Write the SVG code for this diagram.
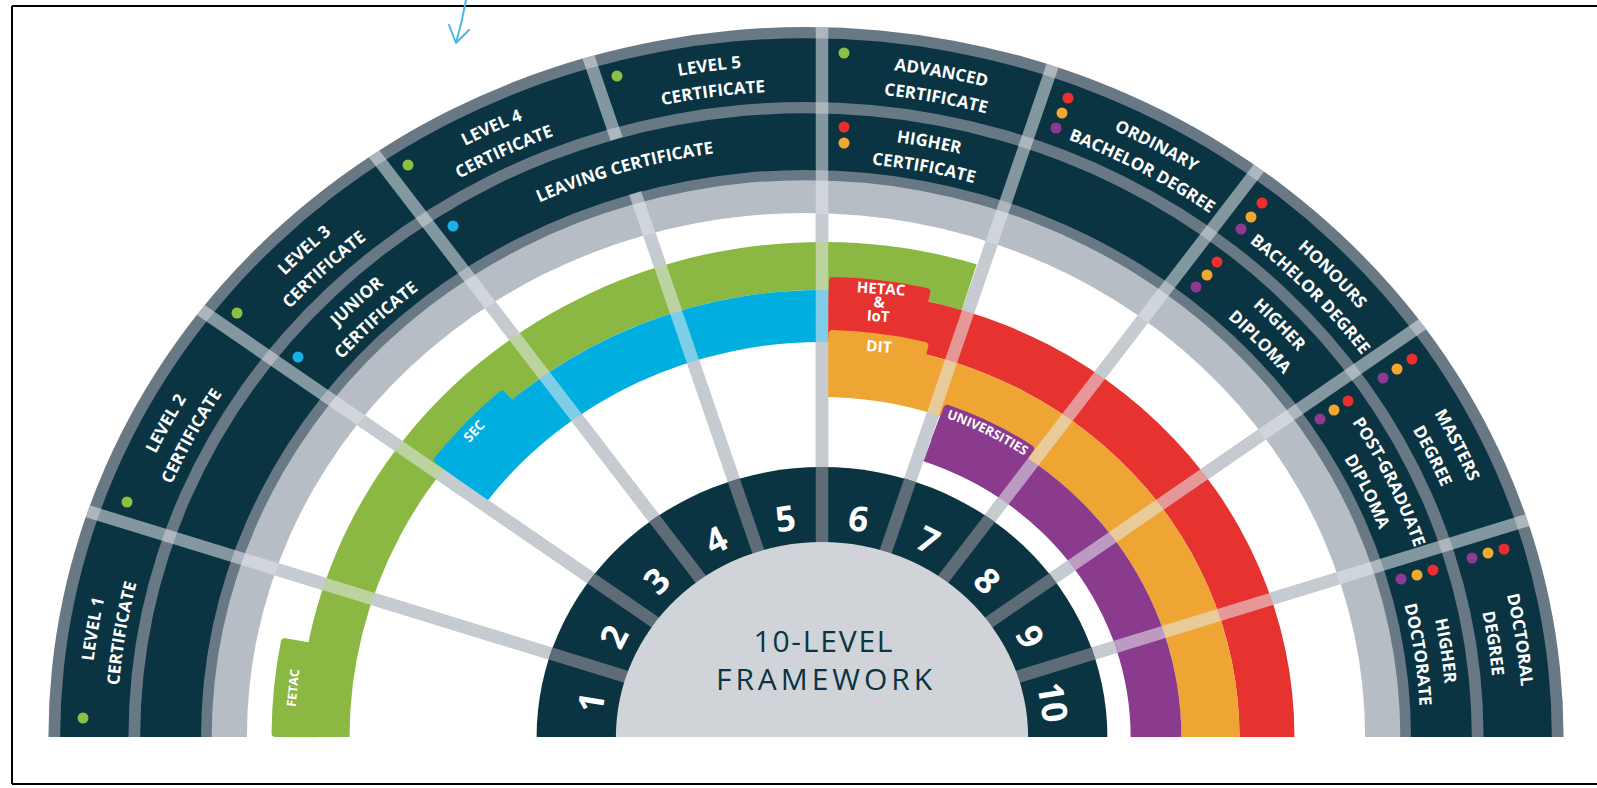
<svg xmlns="http://www.w3.org/2000/svg" width="1597" height="788" viewBox="0 0 1597 788">
<style>
.lbl{font-family:"Open Sans","Liberation Sans",sans-serif;font-weight:700;font-size:17px;fill:#fff;text-anchor:middle}
.num{font-family:"Open Sans","Liberation Sans",sans-serif;font-weight:700;font-size:35px;fill:#fff;text-anchor:middle;dominant-baseline:central}
.bt{font-family:"Open Sans","Liberation Sans",sans-serif;font-weight:700;fill:#fff;text-anchor:middle}
.ctr{font-family:"Open Sans","Liberation Sans",sans-serif;font-weight:400;font-size:30px;fill:#0a3442;text-anchor:middle}
.b1{stroke:#9ea6ae;stroke-width:12.5}
.b2{stroke:#e6e9ec;stroke-opacity:0.55;stroke-width:12.5}
.gap{stroke:#5e6c78;stroke-width:12.5}
.g{fill:#8ab843}.bl{fill:#00aee0}.r{fill:#e6332f}.o{fill:#eea534}.p{fill:#8b3b8e}
.tg{fill:#8ab843;stroke:#8ab843;stroke-width:8;stroke-linejoin:round}
.tb{fill:#00aee0;stroke:#00aee0;stroke-width:8;stroke-linejoin:round}
.tr{fill:#e6332f;stroke:#e6332f;stroke-width:8;stroke-linejoin:round}
.to{fill:#eea534;stroke:#eea534;stroke-width:8;stroke-linejoin:round}
.tp{fill:#8b3b8e;stroke:#8b3b8e;stroke-width:8;stroke-linejoin:round}
.dg{fill:#8cc043}.db{fill:#1ab0e6}.dr{fill:#ec2e2e}.do{fill:#f0a830}.dp{fill:#8e3a92}
</style>
<defs>
<clipPath id="cw"><path d="M246.89,737 A559.11,524 0 0 1 1365.11,737 Z"/></clipPath>
<clipPath id="co"><path d="M48.43,737 A757.57,710 0 0 1 1563.57,737 Z"/></clipPath>
<path id="o1" d="M88.98,737 A717.02,672 0 0 1 1523.02,737"/>
<path id="o2" d="M116.72,737 A689.28,646 0 0 1 1495.28,737"/>
<path id="i1" d="M164.73,737 A641.27,601 0 0 1 1447.27,737"/>
<path id="i2" d="M191.41,737 A614.59,576 0 0 1 1420.59,737"/>
<path id="i0" d="M176.47,737 A629.53,590 0 0 1 1435.53,737"/>
<path id="uni" d="M939.00,415.52 A359.38,340 0 0 1 1030.69,460.20"/>
</defs>
<rect width="1597" height="788" fill="#fff"/>
<g id="frame" fill="none">
<path d="M12,6 H1597 M12,6 V784 M12,784 H1597" stroke="#000" stroke-width="2"/>
<path d="M466,0 Q462,22 456,43 M449,25 L456,43 L469,30" stroke="#4db6e6" stroke-width="2" stroke-linecap="round" stroke-linejoin="round"/>
</g>
<g id="outer-rings">
<path fill="#697885" d="M48.43,737 A757.57,710 0 0 1 1563.57,737 Z"/>
<path fill="#0a3442" d="M60.17,737 A745.83,699 0 0 1 1551.83,737 Z"/>
<path fill="#697885" d="M128.45,737 A677.55,635 0 0 1 1483.55,737 Z"/>
<path fill="#0a3442" d="M140.19,737 A665.81,624 0 0 1 1471.81,737 Z"/>
<path fill="#697885" d="M201.01,737 A604.99,567 0 0 1 1410.99,737 Z"/>
<path fill="#b7bdc5" d="M211.68,737 A594.32,557 0 0 1 1400.32,737 Z"/>
<path fill="#fff" d="M246.89,737 A559.11,524 0 0 1 1365.11,737 Z"/>
</g>
<g id="connectors-base" clip-path="url(#cw)">
<line class="b1" x1="822" y1="737" x2="-82.73" y2="458.88"/>
<line class="b1" x1="822" y1="737" x2="52.38" y2="207.99"/>
<line class="b1" x1="822" y1="737" x2="262.83" y2="8.88"/>
<line class="b1" x1="822" y1="737" x2="528.03" y2="-118.95"/>
<line class="b1" x1="822" y1="737" x2="822" y2="-163"/>
<line class="b1" x1="822" y1="737" x2="1115.97" y2="-118.95"/>
<line class="b1" x1="822" y1="737" x2="1381.17" y2="8.88"/>
<line class="b1" x1="822" y1="737" x2="1591.62" y2="207.99"/>
<line class="b1" x1="822" y1="737" x2="1726.73" y2="458.88"/>
</g>
<g id="fetac">
<path class="g" d="M298.78,737 A523.22,495 0 0 1 976.72,264.14 L961.72,309.99 A472.48,447 0 0 0 349.52,737 Z"/>
<path class="tg" d="M275.55,733.03 A546.47,517 0 0 1 284.79,642.25 L323.23,649.04 A507.36,480 0 0 0 314.66,733.31 Z"/>
<text class="bt" font-size="12.5" dominant-baseline="central" x="292.9" y="687.9" transform="rotate(-84.4 292.9 687.9)">FETAC</text>
</g>
<g id="sec">
<path class="bl" d="M443.67,469.24 A472.48,447 0 0 1 828.60,290.04 L827.83,342.04 A417.52,395 0 0 0 487.68,500.39 Z"/>
<path class="tb" d="M437.92,459.85 A483.05,457 0 0 1 501.92,394.73 L525.03,419.44 A448.17,424 0 0 0 465.65,479.87 Z"/>
<text class="bt" font-size="13.5" dominant-baseline="central" x="474" y="431" transform="rotate(-47.1 474 431)">SEC</text>
</g>
<g id="hetac">
<path class="r" d="M828.60,290.04 A472.48,447 0 0 1 1294.48,737 L1239.52,737 A417.52,395 0 0 0 827.83,342.04 Z"/>
<path class="tr" d="M832.94,281.12 A481.99,456 0 0 1 926.32,291.81 L919.00,323.05 A448.17,424 0 0 0 832.17,313.11 Z"/>
<g transform="rotate(4 880 305)">
<text class="bt" font-size="15" x="880" y="294">HETAC</text>
<text class="bt" font-size="15" x="879" y="307.5">&amp;</text>
<text class="bt" font-size="15" x="879" y="321.5">IoT</text>
</g>
</g>
<g id="dit">
<path class="o" d="M828.56,342.05 A417.52,395 0 0 1 1239.52,737 L1181.38,737 A359.38,340 0 0 0 827.65,397.04 Z"/>
<path class="to" d="M832.41,334.12 A425.97,403 0 0 1 924.33,345.80 L916.46,375.89 A393.20,372 0 0 0 831.61,365.11 Z"/>
<text class="bt" font-size="15.5" x="879" y="352" transform="rotate(4 879 346)">DIT</text>
</g>
<g id="universities">
<path class="p" d="M940.19,415.91 A359.38,340 0 0 1 1181.38,737 L1130.64,737 A308.64,292 0 0 0 923.50,461.24 Z"/>
<path class="tp" d="M947.32,408.76 A368.89,349 0 0 1 1030.05,448.81 L1010.38,476.06 A334.01,316 0 0 0 935.47,439.79 Z"/>
<text class="bt" font-size="13"><textPath href="#uni" startOffset="50%">UNIVERSITIES</textPath></text>
</g>
<g id="connectors" clip-path="url(#co)">
<line class="b2" x1="822" y1="737" x2="-82.73" y2="458.88"/>
<line class="b2" x1="822" y1="737" x2="52.38" y2="207.99"/>
<line class="b2" x1="822" y1="737" x2="262.83" y2="8.88"/>
<line class="b2" x1="822" y1="737" x2="635.17" y2="192.99"/>
<line class="b2" x1="616.55" y1="138.78" x2="528.03" y2="-118.95"/>
<line class="b2" x1="822" y1="737" x2="822" y2="-163"/>
<line class="b2" x1="822" y1="737" x2="1115.97" y2="-118.95"/>
<line class="b2" x1="822" y1="737" x2="1381.17" y2="8.88"/>
<line class="b2" x1="822" y1="737" x2="1591.62" y2="207.99"/>
<line class="b2" x1="822" y1="737" x2="1726.73" y2="458.88"/>
</g>
<g id="framework">
<path fill="#0a3442" d="M536.61,737 A285.39,270 0 0 1 1107.39,737 Z"/>
<line class="gap" x1="550.58" y1="653.56" x2="631.00" y2="678.29"/>
<line class="gap" x1="591.11" y1="578.30" x2="659.52" y2="625.32"/>
<line class="gap" x1="654.25" y1="518.56" x2="703.95" y2="583.29"/>
<line class="gap" x1="733.81" y1="480.21" x2="759.94" y2="556.30"/>
<line class="gap" x1="822" y1="467" x2="822" y2="547"/>
<line class="gap" x1="910.19" y1="480.21" x2="884.06" y2="556.30"/>
<line class="gap" x1="989.75" y1="518.56" x2="940.05" y2="583.29"/>
<line class="gap" x1="1052.89" y1="578.30" x2="984.48" y2="625.32"/>
<line class="gap" x1="1093.42" y1="653.56" x2="1013.00" y2="678.29"/>
<path fill="#d0d3d8" d="M615.88,737 A206.12,195 0 0 1 1028.12,737 Z"/>
<text class="num" x="590.24" y="702.27" transform="rotate(-81 590.24 702.27)">1</text>
<text class="num" x="612.92" y="636.21" transform="rotate(-63 612.92 636.21)">2</text>
<text class="num" x="656.08" y="580.02" transform="rotate(-45 656.08 580.02)">3</text>
<text class="num" x="715.47" y="539.20" transform="rotate(-27 715.47 539.20)">4</text>
<text class="num" x="785.29" y="517.73" transform="rotate(-9 785.29 517.73)">5</text>
<text class="num" x="858.71" y="517.73" transform="rotate(9 858.71 517.73)">6</text>
<text class="num" x="928.53" y="539.20" transform="rotate(27 928.53 539.20)">7</text>
<text class="num" x="987.92" y="580.02" transform="rotate(45 987.92 580.02)">8</text>
<text class="num" x="1031.08" y="636.21" transform="rotate(63 1031.08 636.21)">9</text>
<text class="num" x="1053.76" y="702.27" transform="rotate(81 1053.76 702.27)">10</text>
<text class="ctr" x="823" y="651.5" textLength="139" lengthAdjust="spacing">10-LEVEL</text>
<text class="ctr" x="824" y="690" textLength="216" lengthAdjust="spacing">FRAMEWORK</text>
</g>
<g id="level1"><circle class="dg" cx="83" cy="718" r="5.5"/><text class="lbl"><textPath href="#o1" startOffset="4.943%">LEVEL 1</textPath></text><text class="lbl"><textPath href="#o2" startOffset="4.943%">CERTIFICATE</textPath></text></g>
<g id="level2"><circle class="dg" cx="127" cy="502" r="5.5"/><text class="lbl"><textPath href="#o1" startOffset="14.895%">LEVEL 2</textPath></text><text class="lbl"><textPath href="#o2" startOffset="14.895%">CERTIFICATE</textPath></text></g>
<g id="level3"><circle class="dg" cx="237" cy="313" r="5.5"/><text class="lbl"><textPath href="#o1" startOffset="25.023%">LEVEL 3</textPath></text><text class="lbl"><textPath href="#o2" startOffset="25.023%">CERTIFICATE</textPath></text></g>
<g id="level4"><circle class="dg" cx="408" cy="165" r="5.5"/><text class="lbl"><textPath href="#o1" startOffset="35.249%">LEVEL 4</textPath></text><text class="lbl"><textPath href="#o2" startOffset="35.249%">CERTIFICATE</textPath></text></g>
<g id="level5"><circle class="dg" cx="617" cy="76" r="5.5"/><text class="lbl"><textPath href="#o1" startOffset="45.58%">LEVEL 5</textPath></text><text class="lbl"><textPath href="#o2" startOffset="45.58%">CERTIFICATE</textPath></text></g>
<g id="advanced"><circle class="dg" cx="844" cy="53" r="5.5"/><text class="lbl"><textPath href="#o1" startOffset="56.2%">ADVANCED</textPath></text><text class="lbl"><textPath href="#o2" startOffset="56.2%">CERTIFICATE</textPath></text></g>
<g id="ordinary"><circle class="dr" cx="1068" cy="98" r="5.5"/><circle class="do" cx="1062" cy="113" r="5.5"/><circle class="dp" cx="1056" cy="128" r="5.5"/><text class="lbl"><textPath href="#o1" startOffset="66.6%">ORDINARY</textPath></text><text class="lbl"><textPath href="#o2" startOffset="66.6%">BACHELOR DEGREE</textPath></text></g>
<g id="honours"><circle class="dr" cx="1262" cy="203" r="5.5"/><circle class="do" cx="1251" cy="217" r="5.5"/><circle class="dp" cx="1241" cy="229" r="5.5"/><text class="lbl"><textPath href="#o1" startOffset="76.55%">HONOURS</textPath></text><text class="lbl"><textPath href="#o2" startOffset="76.55%">BACHELOR DEGREE</textPath></text></g>
<g id="masters"><circle class="dr" cx="1412" cy="359" r="5.5"/><circle class="do" cx="1397" cy="369" r="5.5"/><circle class="dp" cx="1383" cy="378" r="5.5"/><text class="lbl"><textPath href="#o1" startOffset="86.2%">MASTERS</textPath></text><text class="lbl"><textPath href="#o2" startOffset="86.2%">DEGREE</textPath></text></g>
<g id="doctoral"><circle class="dr" cx="1504" cy="549" r="5.5"/><circle class="do" cx="1488" cy="553" r="5.5"/><circle class="dp" cx="1472" cy="558" r="5.5"/><text class="lbl"><textPath href="#o1" startOffset="95.55%">DOCTORAL</textPath></text><text class="lbl"><textPath href="#o2" startOffset="95.55%">DEGREE</textPath></text></g>
<g id="junior"><circle class="db" cx="298" cy="357" r="5.5"/><text class="lbl"><textPath href="#i1" startOffset="25.023%">JUNIOR</textPath></text><text class="lbl"><textPath href="#i2" startOffset="25.023%">CERTIFICATE</textPath></text></g>
<g id="leaving"><circle class="db" cx="453" cy="226" r="5.5"/><text class="lbl"><textPath href="#i0" startOffset="40.429%">LEAVING CERTIFICATE</textPath></text></g>
<g id="higher-certificate"><circle class="dr" cx="844" cy="127" r="5.5"/><circle class="do" cx="844" cy="143" r="5.5"/><text class="lbl"><textPath href="#i1" startOffset="56.3%">HIGHER</textPath></text><text class="lbl"><textPath href="#i2" startOffset="56.3%">CERTIFICATE</textPath></text></g>
<g id="higher-diploma"><circle class="dr" cx="1217" cy="262" r="5.5"/><circle class="do" cx="1207" cy="275" r="5.5"/><circle class="dp" cx="1196" cy="287" r="5.5"/><text class="lbl"><textPath href="#i1" startOffset="76.7%">HIGHER</textPath></text><text class="lbl"><textPath href="#i2" startOffset="76.7%">DIPLOMA</textPath></text></g>
<g id="post-graduate"><circle class="dr" cx="1348" cy="401" r="5.5"/><circle class="do" cx="1334" cy="410" r="5.5"/><circle class="dp" cx="1320" cy="419" r="5.5"/><text class="lbl"><textPath href="#i1" startOffset="86.5%">POST-GRADUATE</textPath></text><text class="lbl"><textPath href="#i2" startOffset="86.5%">DIPLOMA</textPath></text></g>
<g id="higher-doctorate"><circle class="dr" cx="1433" cy="570" r="5.5"/><circle class="do" cx="1417" cy="575" r="5.5"/><circle class="dp" cx="1401" cy="579" r="5.5"/><text class="lbl"><textPath href="#i1" startOffset="95.6%">HIGHER</textPath></text><text class="lbl"><textPath href="#i2" startOffset="95.6%">DOCTORATE</textPath></text></g>
</svg>
